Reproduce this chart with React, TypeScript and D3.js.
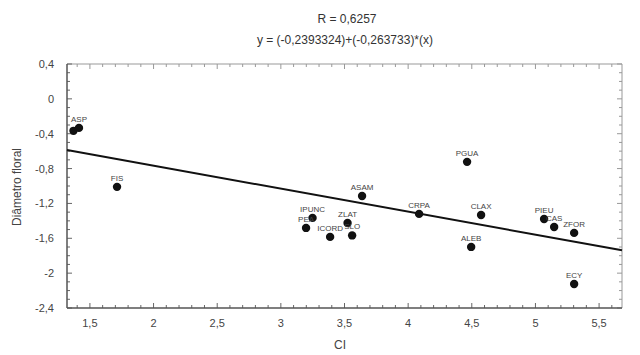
import React from "react";
import * as d3 from "d3";

const labels = ["", "ASP", "FIS", "IPUNC", "PEA", "ICORD", "ZLAT", "SLO", "ASAM", "CRPA", "PGUA", "CLAX", "ALEB", "PIEU", "CAS", "ZFOR", "ECY"];
const ciValues = [1.371, 1.414, 1.713, 3.249, 3.198, 3.387, 3.524, 3.56, 3.638, 4.086, 4.463, 4.573, 4.495, 5.068, 5.147, 5.304, 5.304];
const diamValues = [-0.367, -0.333, -1.01, -1.366, -1.481, -1.584, -1.424, -1.567, -1.114, -1.32, -0.723, -1.332, -1.699, -1.378, -1.47, -1.538, -2.124];
const intercept = -0.2393324;
const slope = -0.263733;
const xTicks = [1.5, 2, 2.5, 3, 3.5, 4, 4.5, 5, 5.5];
const yTicks = [0.4, 0, -0.4, -0.8, -1.2, -1.6, -2, -2.4];
const titleLine1 = "R = 0,6257";
const titleLine2 = "y = (-0,2393324)+(-0,263733)*(x)";
const xLabel = "CI";
const yLabel = "Diâmetro floral";

const W = 640;
const H = 355;
const L = 67, R = 622, T = 64, B = 308;

const fmt = (v: number) => String(v).replace(".", ",");

export default function App() {
  const x = d3.scaleLinear().domain([1.32, 5.68]).range([L, R]);
  const y = d3.scaleLinear().domain([-2.4, 0.4]).range([B, T]);
  const xMinor = d3.range(14, 57).map((v) => v / 10).filter((v) => v >= 1.32 && v <= 5.68);
  const yMinor = d3.range(-24, 5).map((v) => v / 10);
  const isMajorX = (v: number) => Math.abs(v * 2 - Math.round(v * 2)) < 1e-6;
  const isMajorY = (v: number) => Math.abs(v / 0.4 - Math.round(v / 0.4)) < 1e-6;
  const line = d3.line<number>().x((d) => x(d)).y((d) => y(intercept + slope * d));
  const font = "'Liberation Sans', Arial, sans-serif";
  return (
    <svg width={W} height={H} style={{ position: "absolute", left: 0, top: 0, background: "#fff" }} fontFamily={font}>
      <rect x={0} y={0} width={W} height={H} fill="#fff" />
      <text x={347} y={23} textAnchor="middle" fontSize={12} fill="#333">{titleLine1}</text>
      <text x={345} y={44} textAnchor="middle" fontSize={12} fill="#333">{titleLine2}</text>
      <line x1={L} x2={R} y1={T} y2={T} stroke="#999" strokeWidth={1} />
      <line x1={R} x2={R} y1={T} y2={B} stroke="#999" strokeWidth={1} />
      {xMinor.map((v, i) => {
        const len = isMajorX(v) ? 5 : 3;
        return (
          <g key={"xt" + i}>
            <line x1={x(v)} x2={x(v)} y1={B} y2={B - len} stroke="#666" strokeWidth={1} />
            <line x1={x(v)} x2={x(v)} y1={T} y2={T + len} stroke="#999" strokeWidth={1} />
          </g>
        );
      })}
      {yMinor.map((v, i) => {
        const len = isMajorY(v) ? 5 : 3;
        return (
          <g key={"yt" + i}>
            <line x1={L} x2={L + len} y1={y(v)} y2={y(v)} stroke="#666" strokeWidth={1} />
            <line x1={R} x2={R - len} y1={y(v)} y2={y(v)} stroke="#999" strokeWidth={1} />
          </g>
        );
      })}
      <line x1={L} x2={R} y1={B} y2={B} stroke="#555" strokeWidth={1.5} />
      <line x1={L} x2={L} y1={T} y2={B} stroke="#555" strokeWidth={1.5} />
      {xTicks.map((v) => (
        <text key={"xl" + v} x={x(v)} y={B + 19} textAnchor="middle" fontSize={11} fill="#444">{fmt(v)}</text>
      ))}
      {yTicks.map((v) => (
        <text key={"yl" + v} x={54} y={y(v) + 4} textAnchor="end" fontSize={11} fill="#444">{fmt(v)}</text>
      ))}
      <text x={340} y={349} textAnchor="middle" fontSize={12} fill="#444">{xLabel}</text>
      <text transform={`translate(21,187) rotate(-90)`} textAnchor="middle" fontSize={12} fill="#444">{yLabel}</text>
      <path d={line([1.32, 5.68]) || ""} stroke="#111" strokeWidth={2} fill="none" />
      {ciValues.map((cx, i) => (
        <circle key={"p" + i} cx={x(cx)} cy={y(diamValues[i])} r={4.2} fill="#111" />
      ))}
      {ciValues.map((cx, i) =>
        labels[i] ? (
          <text key={"t" + i} x={x(cx)} y={y(diamValues[i]) - 6} textAnchor="middle" fontSize={8} fill="#444">{labels[i]}</text>
        ) : null
      )}
    </svg>
  );
}
